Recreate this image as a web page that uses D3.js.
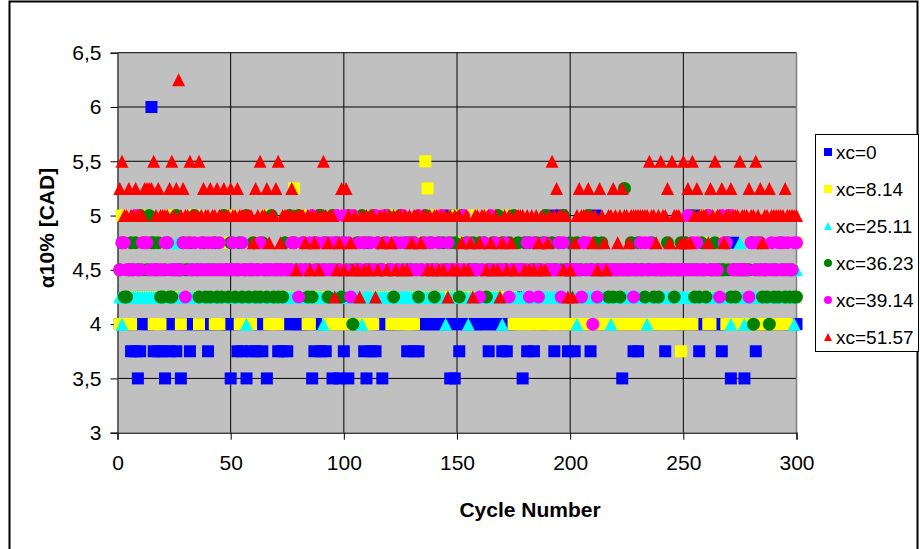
<!DOCTYPE html>
<html>
<head>
<meta charset="utf-8">
<script src="https://cdn.jsdelivr.net/npm/d3@7"></script>
<style>
  body { margin: 0; background: #fff; }
  svg { display: block; }
  text { font-family: "Liberation Sans", Arial, sans-serif; fill: #000; }
</style>
</head>
<body>
<svg id="chart" width="920" height="549"></svg>
<script>
// Series labels, colours and marker shapes (drawing order = legend order)
const seriesNames  = ["xc=0", "xc=8.14", "xc=25.11", "xc=36.23", "xc=39.14", "xc=51.57"];
const seriesColors = ["#0000FF", "#FFFF00", "#00FFFF", "#008000", "#FF00FF", "#FF0000"];
const seriesShapes = ["square", "square", "triangle", "circle", "circle", "triangle"];

const xTicks = [0, 50, 100, 150, 200, 250, 300];
const yTicks = [3, 3.5, 4, 4.5, 5, 5.5, 6, 6.5];

// alpha10% per cycle (cycles 1..300), one array per xc
const xc0 = [
  4,4,4,4,4,3.75,4,3.75,3.5,3.75,
  4,4,4,4,6,3.75,4,3.75,4,3.75,
  3.5,4,3.75,4,4,3.75,4,3.5,4,4,
  4,3.75,4,4,4,4,4,4,4,3.75,
  4,4,4,4,4,4,4,4,4,3.5,
  4,4,3.75,4,3.75,4,3.5,4,3.75,4,
  3.75,4,4,3.75,4,3.5,4,4,4,4,
  3.75,4,3.75,4,3.75,4,4,4,4,4,
  4,4,4,4,4,3.5,3.75,4,4,3.75,
  4,3.75,4,4,3.5,4,4,3.5,4,3.75,
  4,3.5,4,4,4,4,4,4,3.75,3.5,
  4,3.75,4,3.75,4,4,3.5,4,4,4,
  4,4,4,4,4,4,4,3.75,4,4,
  3.75,4,3.75,4,4,4,4,4,4,4,
  4,4,4,4,4,5,3.5,4,3.5,4,
  3.75,4,4,4,4,4,4,4,4,4,
  4,4,4,3.75,4,4,4,4,4,3.75,
  4,3.75,4,4,4,4.25,4,4,3.5,4,
  3.75,4,4,3.75,4,4,4,4,4,4,
  4,5,3.75,4,4,5,4,4,3.75,4,
  4,3.75,4,4,4,4,4,4,3.75,4,
  5,4,4,4,4,4,4,4,4,4,
  4,4,3.5,4,4,4,4,3.75,4,3.75,
  4,4,4,4,4,4,4,4,4,4,
  4,3.75,4,4,4,4,4,4,4,4,
  4,4,4,4,4,5,3.75,4,4,4,
  4,4,4,4,4,4,3.75,4,4,4,
  3.5,4.75,4,4,4,4,3.5,4,4,4,
  4,3.75,4,4,4,4,4,4,4,4,
  4,4,4,4,4,4,4,4,4,4
];
const xc814 = [
  4,5,4,4,4,4,4.25,4.25,4.5,4.75,
  4.25,4.5,5,4.5,4.25,4,4,4,4,4.75,
  4.25,4.5,4.25,5,4.5,4.25,4.25,4,4.5,4.25,
  4.75,4.25,4.5,5,4.25,4,4.25,4.5,4.25,4.75,
  4.25,4.5,4,4,4,4.25,4.5,4.75,4.25,5,
  4.25,4.5,4.25,4,4,4,4,4,4,4.5,
  4.25,4.75,4.25,4.5,4.25,5,4,4,4,4,
  4,4.25,4.5,4.25,4.25,4.75,4.25,5.25,4.5,4.25,
  5,4.25,4.5,4,4,4.25,4.5,4.25,4.75,4.25,
  4.5,4.25,4,4,4,4,4,4,5,4,
  4,4,4,4,4,4,4,4,4,4,
  4,4,4,4.5,4.25,4.75,4.25,4.5,4.25,5,
  4,4,4,4.75,4,4,4,4,4,4,
  4,4.25,4.5,4.25,4.75,5.5,5.25,4.25,4.5,4.25,
  5,4.25,4.5,4.25,4.25,4.75,4.5,4.25,5,4.5,
  4.25,4.25,4.75,4.5,4.25,4.5,5,4.25,4.5,4.25,
  4.75,4.25,4.5,4.25,5,4.25,4.25,4.5,4.75,4.25,
  4.5,4.25,5,4.25,4,4,4,4,4,4,
  4,4,4,4,4,4,4,4,4,4,
  4,4,4,4,4,4,4,4,4,4,
  4,4,4,4,4,4,4,4,4,4,
  4,4,4,4,4,4,4,4,4,4,
  4,4,4,4,4,4,4,4,4,4,
  4,4,4,4,4,4,4,4,4,4,
  4,4,4,4,4,4,4,4,3.75,4,
  4,4,4,4,4.25,4.5,4.25,4.75,4.25,5,
  4,4,4.25,4.5,4.25,4.75,4.25,4.5,4,4,
  4,4,4,4,4,4,4,4,4,4,
  4,4,4,4,4,4,4,4,4,4,
  4,4,4,4,4,4,4.25,4.5,4.25,4.75
];
const xc2511 = [
  4.25,4,4.25,4.25,4.25,4.25,4.25,4.25,4.25,4.25,
  4.25,4.25,4.25,4.25,4.25,4.25,4.25,4.25,4.25,4.25,
  4.25,4.25,4.25,4.25,4.25,4.75,4.25,4.25,4.25,4.25,
  4.25,4.25,4.25,4.25,4.25,4.25,4.25,4.25,4.25,4.25,
  4.25,4.25,4.25,4.25,4.25,4.25,4.25,4.25,4.25,4.25,
  4.25,4.25,4.25,4.25,4.25,4.25,4,4.25,4.25,4.25,
  4.25,4.25,4.25,4.25,4.25,4.25,4.25,4.25,4.25,4.25,
  4.25,4.25,4.25,4.25,4.25,4.25,4.25,4.25,4.25,4.25,
  4.25,4.25,4.25,4.25,4.25,4.25,4.25,4.25,4.25,4.25,
  4,4.25,4.25,4.25,4.25,4.25,4.25,4.25,4.25,4.25,
  4.25,4.25,4.25,4.25,4.25,4.25,4.25,4,4.25,4.25,
  4.25,4.25,4.25,4.25,4.25,4.25,4.25,4.25,4.25,4.25,
  4.25,4.25,4.25,4.25,4.25,4.25,4.25,4.25,4.25,4.25,
  4.25,4.25,4.25,4.25,4.25,4.25,4.25,4.25,4.25,4.25,
  4.25,4.25,4.25,4.25,4,4.25,4.25,4.25,4.25,4.25,
  4.25,4.25,4.25,4.25,4,4.25,4.25,4.25,4.25,4.25,
  4.25,4.25,4.25,4.25,4.25,4.25,4.25,4.25,4.25,4,
  4.25,4.25,4.25,4.25,4.25,4.25,4.25,4.25,4.25,4.25,
  4.25,4.25,4.25,4.25,4.25,4.25,4.25,4.25,4.25,4.25,
  4.25,4.25,4.25,4.25,4.25,4.25,4.25,4.25,4.25,4.75,
  4.25,4.25,4,4.25,4.25,4.25,4.25,4.25,4.25,4.25,
  4.25,4.25,4.25,4.25,4.25,4.25,4.25,4,4.25,4.25,
  4.25,4.25,4.25,4.25,4.25,4.25,4.25,4.25,4.25,4.25,
  4.25,4.25,4.25,4,4.25,4.25,4.25,4.25,4.25,4.25,
  4.25,4.25,4.25,4.25,4.25,4.25,4.25,4.25,4.25,4.25,
  4.25,4.25,4.25,4.25,4.25,4.25,4.25,4.25,4.25,4.25,
  4.25,4.25,4.25,4.25,4.25,4.25,4.25,4.25,4.25,4.25,
  4,4.25,4.25,4.25,4.75,4.25,4,4.25,4.25,4.25,
  4.25,4.25,4.25,4.25,4.25,4.25,4.25,4.25,4.25,4.25,
  4.25,4.25,4.25,4.25,4.25,4.25,4.25,4.25,4,4.5
];
const xc3623 = [
  4.5,4.75,4.25,4.25,4.5,4.75,4.5,4.75,4.5,5,
  4.5,4.75,4.5,5,4.75,4.75,4.5,4.75,4.25,4.25,
  4.5,4.75,4.25,4.25,4.5,5,4.5,4.5,4.75,4.5,
  4.5,4.75,4.5,5,4.5,4.25,4.5,4.75,4.25,4.5,
  4.25,4.5,4.75,4.25,4.5,4.25,5,4.5,4.25,4.75,
  4.5,4.25,4.5,4.75,4.25,4.5,5,4.25,4.5,4.75,
  4.25,4.5,4.25,4.75,4.5,4.25,4.5,5,4.25,4.5,
  4.25,4.5,4.25,4.75,4.5,5,4.5,4.75,4.5,5,
  4.5,4.75,4.5,4.25,4.5,4.25,4.75,4.5,5,5,
  4.5,4.75,4.25,4.5,5,4.5,4.75,4.5,4.25,4.75,
  4.5,5,4.5,4,4.5,4.75,4.5,5,4.75,4.5,
  4.75,4.5,5,4.5,4.75,4.5,4.5,4.75,5,4.5,
  4.5,4.25,4.75,4.5,5,4.5,4.75,4.5,4.75,4.5,
  4.75,4.5,4.25,4.5,4.75,5,4.5,4.75,4.5,4.25,
  4.5,4.75,4.5,4.75,4.5,4.5,4.75,4.5,4.75,4.5,
  4.25,5,4.5,4.75,4.5,4.5,4.75,4.5,4.5,4.75,
  4.5,4.75,4.25,4.5,4.5,4.75,4.5,5,4.5,4.75,
  4.5,4.5,4.75,4.5,5,4.5,4.75,4.5,4.5,4.75,
  4.5,4.75,4.5,4.5,4.75,4.5,4.5,4.75,5,4.5,
  4.5,4.75,4.5,4.5,4.75,4.5,5,4.5,4.5,4.75,
  4.5,4.5,4.75,4.5,4.5,4.75,4.5,5,4.5,4.5,
  4.75,4.5,4.5,4.75,4.5,4.5,4.25,4.5,4.25,4.5,
  4.5,4.25,4.5,5.25,4.5,4.5,4.75,4.5,4.5,4.75,
  4.5,4.5,4.25,4.5,4.5,4.75,4.25,4.5,4.25,4.5,
  4.5,4.5,4.75,4.5,4.5,4.25,4.5,4.5,4.75,4.5,
  4.75,4.5,5,4.5,4.25,4.5,4.25,4.75,4.5,4.25,
  5,4.5,4.5,4.75,4.5,4.5,4.5,4.5,4.75,4.5,
  4.25,4.5,4.25,4.5,4.5,4.5,4.5,4.5,4.5,4.75,
  4,4.5,4.75,4.5,4.25,4.5,4.25,4,4.5,4.25,
  4.5,4.25,4.75,4.5,4.25,4.5,4.25,4.5,4.25,4.25
];
const xc3914 = [
  4.5,4.75,4.75,4.5,4.5,4.5,4.5,5,4.5,4.5,
  4.75,4.75,4.75,4.5,4.5,4.5,4.5,4.5,4.5,4.5,
  4.75,4.75,4.5,4.5,4.5,4.5,4.5,4.5,4.75,4.25,
  4.75,4.5,4.5,4.75,4.5,4.5,4.75,4.5,4.5,4.75,
  4.5,4.75,4.5,4.5,4.75,4.5,4.5,4.5,4.5,4.5,
  4.75,4.5,4.5,4.5,4.75,4.5,4.5,4.5,4.5,4.5,
  4.5,4.5,4.75,4.5,4.5,4.5,4.5,4.5,4.5,4.5,
  4.5,4.5,4.5,4.5,4.5,4.5,4.75,4.75,4.5,4.25,
  4.5,4.75,4.5,4.5,4.75,5,4.5,4.75,4.5,4.5,
  4.75,4.5,4.5,4.75,4.5,4.75,5,4.5,4.75,5,
  4.5,4.75,4.25,5,4.5,4.5,4.75,4.5,4.75,4.5,
  4.5,4.75,4.5,5,4.75,4.5,4.5,5,4.75,4.5,
  4.5,4.75,4.5,4.5,4.75,5,4.5,4.75,4.5,4.5,
  4.75,4.5,5,4.5,4.5,4.75,4.5,4.5,4.75,4.5,
  4.5,4.75,5,4.5,4.5,4.75,4.5,4.5,4.5,4.5,
  4.5,4.5,5,4.5,4.75,4.5,4.5,4.5,4.5,4.25,
  4.5,4.75,4.5,4.5,5,4.5,4.75,4.5,4.5,4.5,
  4.75,4.5,4.25,4.5,4.5,4.5,4.5,4.5,4.5,4.5,
  4.75,4.25,4.5,4.75,4.5,4.25,4.5,4.5,4.75,4.5,
  4.5,4.5,4.5,4.5,4.75,4.25,4.75,4.5,4.5,4.5,
  4.5,4.5,4.5,4.5,4.25,4.75,4.5,4.75,4.5,4,
  4.5,4.25,4.5,4.5,4.5,4.5,4.5,4.5,4.5,4.5,
  4.5,4.5,4.5,4.5,4.5,4.5,4.5,4.25,4.5,4.5,
  4.75,4.5,4.75,4.5,4.75,4.5,4.5,4.5,4.5,4.5,
  4.5,4.5,4.5,4.5,4.5,4.5,4.5,4.5,4.5,4.5,
  4.5,5,4.5,4.75,4.5,4.75,4.5,4.5,4.5,4.5,
  5,4.5,4.5,4.5,4.5,4.25,5,4.75,4.75,5,
  5,4.5,4.5,4.5,4.5,4.5,4.5,4.5,4.25,4.75,
  4.75,4.5,4.5,4.75,4.5,4.5,4.5,4.5,4.75,4.5,
  4.5,4.75,4.5,4.75,4.5,4.75,4.5,4.5,4.75,4.75
];
const xc5157 = [
  5.25,5.5,5,5,5.25,5,5,5.25,5,5,
  5,5.25,5.25,5.25,5.25,5.5,5,5.25,5,5,
  5,5,5.25,5.5,5,5.25,6.25,5,5.25,5,
  5,5.5,5,5,5,5.5,5,5.25,5,5,
  5.25,5,5,5.25,5,5,5.25,5,5,5.25,
  5,5,5.25,5,5,5,5,5,5,4.75,
  5.25,5,5.5,5,5,5.25,4.75,5,5,5.25,
  5.5,4.75,5,5,5,5,5.25,5,4.5,5,
  5,5,4.75,5,4.5,5,4.75,5,4.5,5,
  5.5,5,4.75,5,5,4.25,4.5,4.75,5.25,4.5,
  5.25,5,4.75,4.5,5,4.5,4.25,5,4.5,5,
  4.5,5,5,4.25,4.5,5,4.75,5,4.5,5,
  4.75,5,4.5,5,5,4.5,5,4.5,5,4.75,
  5,5,5,4.75,5,5,4.5,5,4.5,5,
  5,4.5,5,4.5,5,4.25,5,4.5,5,4.5,
  5,4.75,4.5,5,4.5,4.75,4.25,5,5,4.75,
  5,5,4.5,5,4.75,4.5,5,4.5,4.25,4.75,
  5,4.5,5,4.75,4.5,5,5,5,5,4.5,
  5,4.5,5,4.5,5,4.75,4.5,5,4.5,4.75,
  5,5.5,5,5.25,5,5,4.5,5,4.25,4.5,
  4.25,4.75,5,5.25,5,5,5,5.25,5,4.75,
  5,4.5,5.25,5,4.75,4.5,5,5,5.25,5,
  4.75,5,5.25,5,5,4.75,5,5,5,5,
  5,5,5,5,5.5,5,5,4.75,5,5.5,
  5,5,5.25,4.75,5.5,5,5,5,4.75,5.5,
  4.75,5.25,4.75,5.5,5,5.25,5,5,5,5,
  4.75,5.25,5,5.5,5,5,5.25,4.75,5,5,
  5.25,5,5,5,5.5,5,5,5,5.25,5,
  5,5.5,5,5.25,4.75,5,5,5.25,5,5,
  5,5,5,5,5.25,5,5,5,5,5
];
const seriesValues = [xc0, xc814, xc2511, xc3623, xc3914, xc5157];

// ---- layout ----
const plot = { left: 117.5, right: 796.5, top: 52.7, bottom: 432.7 };
const svg = d3.select("#chart");

const x = d3.scaleLinear().domain([0, 300]).range([plot.left, plot.right]);
const y = d3.scaleLinear().domain([3, 6.5]).range([plot.bottom, plot.top]);

// outer chart frame
svg.append("rect")
  .attr("x", 9.5).attr("y", 1.5)
  .attr("width", 908).attr("height", 560)
  .attr("fill", "#fff").attr("stroke", "#000").attr("stroke-width", 2);

// plot area
svg.append("rect")
  .attr("x", plot.left).attr("y", plot.top)
  .attr("width", plot.right - plot.left).attr("height", plot.bottom - plot.top)
  .attr("fill", "#C0C0C0");

// gridlines
const grid = svg.append("g").attr("stroke", "#000").attr("stroke-width", 1);
grid.selectAll("line.h").data(yTicks.filter(d => d > 3)).join("line")
  .attr("class", "h")
  .attr("x1", plot.left).attr("x2", plot.right)
  .attr("y1", d => y(d)).attr("y2", d => y(d));
grid.selectAll("line.v").data(xTicks.filter(d => d > 0 && d < 300)).join("line")
  .attr("class", "v")
  .attr("x1", d => x(d)).attr("x2", d => x(d))
  .attr("y1", plot.top).attr("y2", plot.bottom);

// plot border (right side)
svg.append("line")
  .attr("x1", plot.right).attr("x2", plot.right)
  .attr("y1", plot.top).attr("y2", plot.bottom)
  .attr("stroke", "#808080").attr("stroke-width", 1.5);

// axes
const fmt = d => String(d).replace(".", ",");
const yAxis = d3.axisLeft(y).tickValues(yTicks).tickFormat(fmt).tickSize(7).tickPadding(9);
const xAxis = d3.axisBottom(x).tickValues(xTicks).tickFormat(d => d).tickSize(7).tickPadding(15);

const gy = svg.append("g").attr("transform", `translate(${plot.left},0)`).call(yAxis);
const gx = svg.append("g").attr("transform", `translate(0,${plot.bottom})`).call(xAxis);
[gy, gx].forEach(g => {
  g.select(".domain").attr("stroke", "#404040").attr("stroke-width", 1.5);
  g.selectAll(".tick line").attr("stroke", "#000");
  g.selectAll(".tick text")
    .attr("fill", "#000")
    .style("font-family", '"Liberation Sans", Arial, sans-serif')
    .style("font-size", "21px");
});

// axis titles
svg.append("text")
  .attr("x", 530).attr("y", 517)
  .attr("text-anchor", "middle")
  .style("font-size", "21px").style("font-weight", "bold")
  .text("Cycle Number");
svg.append("text")
  .attr("transform", "translate(54,228) rotate(-90)")
  .attr("text-anchor", "middle")
  .style("font-size", "21px").style("font-weight", "bold")
  .text("\u03B110% [CAD]");

// marker paths
function markerPath(shape, s) {
  if (shape === "square") return d3.symbol(d3.symbolSquare, s * s)();
  if (shape === "circle") return d3.symbol(d3.symbolCircle, Math.PI * (s / 2) * (s / 2))();
  const h = s / 2;
  return `M0,${-h}L${h},${h}L${-h},${h}Z`;
}
const markerSize = { square: 12, circle: 13, triangle: 13 };

// data points, series drawn in order so the last series sits on top
seriesValues.forEach((vals, si) => {
  const shape = seriesShapes[si];
  const pts = vals.map((v, i) => ({ cycle: i + 1, value: v }));
  svg.append("g")
    .selectAll("path").data(pts).join("path")
    .attr("d", markerPath(shape, markerSize[shape]))
    .attr("transform", d => `translate(${x(d.cycle)},${y(d.value)})`)
    .attr("fill", seriesColors[si]);
});

// legend
const legend = svg.append("g");
legend.append("rect")
  .attr("x", 815.5).attr("y", 134.5).attr("width", 103).attr("height", 217)
  .attr("fill", "#fff").attr("stroke", "#000").attr("stroke-width", 1);
const items = legend.selectAll("g.item").data(seriesNames).join("g")
  .attr("class", "item")
  .attr("transform", (d, i) => `translate(828,${152 + i * 37})`);
items.append("path")
  .attr("d", (d, i) => markerPath(seriesShapes[i], 8))
  .attr("fill", (d, i) => seriesColors[i]);
items.append("text")
  .attr("x", 8).attr("dy", "0.36em")
  .style("font-size", "19px")
  .text(d => d);
</script>
</body>
</html>
